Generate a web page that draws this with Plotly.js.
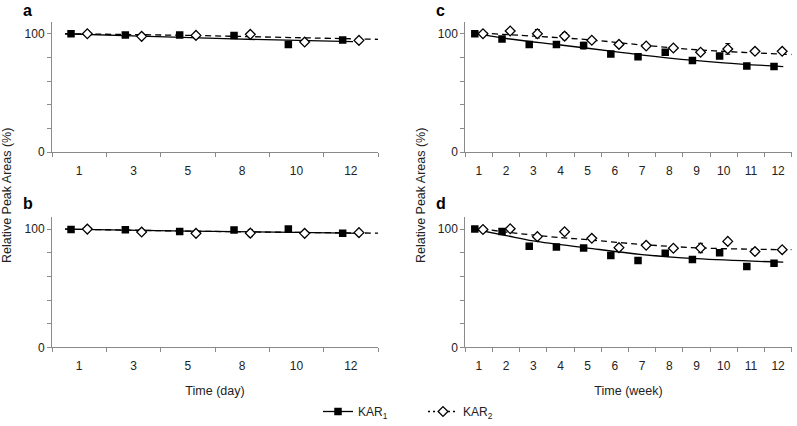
<!DOCTYPE html>
<html>
<head>
<meta charset="utf-8">
<script src="https://cdn.plot.ly/plotly-3.0.1.min.js"></script>
<style>html,body{margin:0;padding:0;background:#fff;}#chart{width:797px;height:426px;}</style>
</head>
<body>
<div id="chart"></div>
<script>
// ---- categories / tick labels ----
var dayLabels = ["1", "3", "5", "8", "10", "12"];
var weekLabels = ["1", "2", "3", "4", "5", "6", "7", "8", "9", "10", "11", "12"];

// ---- panel a (days) ----
var aKAR1 = [100, 98.9, 99.0, 98.6, 91.0, 94.7];
var aKAR2 = [100, 97.8, 98.6, 99.5, 93.0, 94.4];
var aKAR1err = [0, 0, 0, 0, 0, 0];
var aKAR2err = [1.5, 0, 0, 0, 0, 0];
var aTrend1X = [0.74, 2.12, 3.83, 6.04];
var aTrend1Y = [100, 98, 95.6, 93.3];
var aTrend2X = [0.74, 3, 5, 6.5];
var aTrend2Y = [100, 98.6, 96.7, 95.3];

// ---- panel b (days) ----
var bKAR1 = [99.7, 99.4, 98.0, 99.2, 100, 96.6];
var bKAR2 = [100, 97.5, 96.4, 96.6, 96.4, 97.0];
var bKAR1err = [0, 0, 0, 0, 0, 0];
var bKAR2err = [0, 0, 0, 3, 0, 0];
var bTrend1X = [0.74, 3, 5, 6.23];
var bTrend1Y = [100, 98.3, 97.2, 96.4];
var bTrend2X = [0.74, 3.84, 6.5];
var bTrend2Y = [100, 97.8, 96.6];

// ---- panel c (weeks) ----
var cKAR1 = [100, 95.5, 91.0, 91.0, 90.0, 83.0, 80.7, 84.4, 77.4, 81.3, 72.9, 72.3];
var cKAR2 = [100, 102.3, 100, 98.0, 94.5, 91.0, 89.7, 88.0, 84.4, 87.2, 85.2, 85.2];
var cKAR1err = [0, 0, 2.5, 1.5, 2.8, 0, 0, 1.5, 0, 2, 1.5, 0];
var cKAR2err = [0, 0, 3.6, 3, 0, 2, 0, 0, 0, 4.5, 0, 0];
var cTrend1X = [0.74, 2, 4, 6, 8, 10, 12.19];
var cTrend1Y = [101, 96, 90.5, 85, 79.5, 75.5, 72.3];
var cTrend2X = [0.74, 3, 5, 7, 9, 11, 12.5];
var cTrend2Y = [101, 98, 95, 90.5, 86.5, 84, 82.5];

// ---- panel d (weeks) ----
var dKAR1 = [100, 98.0, 85.4, 84.9, 84.0, 77.6, 73.4, 79.6, 74.2, 80.1, 68.3, 71.1];
var dKAR2 = [99.7, 100.3, 93.6, 97.8, 92.2, 84.3, 86.3, 83.8, 84.0, 89.6, 81.0, 82.6];
var dKAR1err = [0, 0, 0, 0, 0, 0, 0, 2, 0, 0, 0, 0];
var dKAR2err = [0, 0, 2, 0, 0, 2, 0, 2, 4, 0, 2, 2];
var dTrend1X = [0.74, 2, 3, 5, 7, 9, 12.19];
var dTrend1Y = [100.3, 94.5, 90, 84, 78.5, 75, 72];
var dTrend2X = [0.74, 2, 4, 5, 7, 9, 11, 12.5];
var dTrend2Y = [101.5, 97.5, 92.8, 91, 87, 84.2, 83, 82.6];

var seriesNames = ["KAR<sub>1</sub>", "KAR<sub>2</sub>"];

// ---- styles ----
var FONT = "Liberation Sans, Arial, Helvetica, sans-serif";
var AXC = "#8a8a8a";
var OFF = 0.15;
var sqMarker = {symbol: "square", size: 7.5, color: "#000", line: {width: 0}};
var dmMarker = {symbol: "diamond", size: 7.5, color: "#fff", line: {width: 1.3, color: "#000"}};
var solidLine = {color: "#000", width: 1.3, shape: "spline"};
var dashLine = {color: "#000", width: 1.3, dash: "6px,4px", shape: "spline"};

function idx(n, off) { var r = []; for (var i = 0; i < n; i++) r.push(i + 1 + off); return r; }

var traces = [];
function addPanel(xa, ya, k1, k2, e1, e2, t1x, t1y, t2x, t2y) {
  var n = k1.length;
  traces.push({type: "scatter", mode: "lines", x: t1x, y: t1y, xaxis: xa, yaxis: ya,
    line: solidLine, showlegend: false, hoverinfo: "skip"});
  traces.push({type: "scatter", mode: "lines", x: t2x, y: t2y, xaxis: xa, yaxis: ya,
    line: dashLine, showlegend: false, hoverinfo: "skip"});
  traces.push({type: "scatter", mode: "markers", x: idx(n, -OFF), y: k1, xaxis: xa, yaxis: ya,
    marker: sqMarker, showlegend: false, name: seriesNames[0],
    error_y: {type: "data", array: e1, visible: true, color: "#000", thickness: 1, width: 2.5}});
  traces.push({type: "scatter", mode: "markers", x: idx(n, OFF), y: k2, xaxis: xa, yaxis: ya,
    marker: dmMarker, showlegend: false, name: seriesNames[1],
    error_y: {type: "data", array: e2, visible: true, color: "#000", thickness: 1, width: 2.5}});
}
addPanel("x", "y", aKAR1, aKAR2, aKAR1err, aKAR2err, aTrend1X, aTrend1Y, aTrend2X, aTrend2Y);
addPanel("x2", "y2", bKAR1, bKAR2, bKAR1err, bKAR2err, bTrend1X, bTrend1Y, bTrend2X, bTrend2Y);
addPanel("x3", "y3", cKAR1, cKAR2, cKAR1err, cKAR2err, cTrend1X, cTrend1Y, cTrend2X, cTrend2Y);
addPanel("x4", "y4", dKAR1, dKAR2, dKAR1err, dKAR2err, dTrend1X, dTrend1Y, dTrend2X, dTrend2Y);

// legend entries
traces.push({type: "scatter", mode: "lines+markers", x: [null], y: [null], xaxis: "x", yaxis: "y",
  name: seriesNames[0], marker: sqMarker, line: {color: "#000", width: 1.3}, showlegend: true});
traces.push({type: "scatter", mode: "lines+markers", x: [null], y: [null], xaxis: "x", yaxis: "y",
  name: seriesNames[1], marker: dmMarker, line: {color: "#000", width: 1.3, dash: "2px,3px"}, showlegend: true});

var W = 797, H = 426;
function px(v) { return v / W; }
function py(v) { return 1 - v / H; }

function xAxis(labels, dom, anchor, title) {
  var n = labels.length;
  var ax = {
    domain: [px(dom[0]), px(dom[1])], anchor: anchor,
    range: [0.5, n + 0.5], tickmode: "array", tickvals: idx(n, 0), ticktext: labels,
    ticks: "outside", ticklen: 7, tickcolor: "rgba(0,0,0,0)",
    minor: {tickmode: "linear", tick0: 0.5, dtick: 1, ticks: "outside", ticklen: 4, tickcolor: AXC, tickwidth: 1},
    showline: true, linecolor: AXC, linewidth: 1, showgrid: false, zeroline: false,
    tickfont: {family: FONT, size: 12, color: "#222"}, fixedrange: true
  };
  if (title) ax.title = {text: title, font: {family: FONT, size: 12.5, color: "#222"}, standoff: 14};
  return ax;
}
function yAxis(dom, anchor) {
  return {
    domain: [py(dom[1]), py(dom[0])], anchor: anchor,
    range: [0, 110], tickmode: "array", tickvals: [0, 100], ticktext: ["0", "100"],
    ticks: "outside", ticklen: 4, tickcolor: AXC, tickwidth: 1,
    minor: {tickmode: "linear", tick0: 0, dtick: 20, ticks: "outside", ticklen: 4, tickcolor: AXC, tickwidth: 1},
    showline: true, linecolor: AXC, linewidth: 1, showgrid: false, zeroline: false,
    tickfont: {family: FONT, size: 12, color: "#222"}, fixedrange: true
  };
}

var leftX = [52, 378], rightX = [465.3, 791.7];
var topY = [22, 153], botY = [218.3, 349];

var letterFont = {family: FONT, size: 16, color: "#000", weight: "bold"};
var layout = {
  width: W, height: H,
  margin: {l: 0, r: 0, t: 0, b: 0},
  paper_bgcolor: "#fff", plot_bgcolor: "rgba(0,0,0,0)",
  font: {family: FONT, size: 12, color: "#222"},
  xaxis: xAxis(dayLabels, leftX, "y"),
  yaxis: yAxis(topY, "x"),
  xaxis2: xAxis(dayLabels, leftX, "y2", "Time (day)"),
  yaxis2: yAxis(botY, "x2"),
  xaxis3: xAxis(weekLabels, rightX, "y3"),
  yaxis3: yAxis(topY, "x3"),
  xaxis4: xAxis(weekLabels, rightX, "y4", "Time (week)"),
  yaxis4: yAxis(botY, "x4"),
  showlegend: true,
  legend: {orientation: "h", x: px(318), y: py(399), xanchor: "left", yanchor: "top",
    font: {family: FONT, size: 12, color: "#222"}, bgcolor: "rgba(0,0,0,0)", itemwidth: 30,
    entrywidth: 60, entrywidthmode: "pixels"},
  annotations: [
    {text: "a", xref: "paper", yref: "paper", x: px(21), y: 1, xanchor: "left", yanchor: "top", showarrow: false, font: letterFont},
    {text: "b", xref: "paper", yref: "paper", x: px(21), y: py(204), xanchor: "left", yanchor: "middle", showarrow: false, font: letterFont},
    {text: "c", xref: "paper", yref: "paper", x: px(434), y: 1, xanchor: "left", yanchor: "top", showarrow: false, font: letterFont},
    {text: "d", xref: "paper", yref: "paper", x: px(434), y: py(204), xanchor: "left", yanchor: "middle", showarrow: false, font: letterFont},
    {text: "Relative Peak Areas (%)", xref: "paper", yref: "paper", x: px(7), y: py(197), textangle: -90,
      xanchor: "center", yanchor: "middle", showarrow: false, font: {family: FONT, size: 12.5, color: "#222"}},
    {text: "Relative Peak Areas (%)", xref: "paper", yref: "paper", x: px(421), y: py(197), textangle: -90,
      xanchor: "center", yanchor: "middle", showarrow: false, font: {family: FONT, size: 12.5, color: "#222"}}
  ]
};

Plotly.newPlot("chart", traces, layout, {displayModeBar: false, staticPlot: true});
</script>
</body>
</html>
